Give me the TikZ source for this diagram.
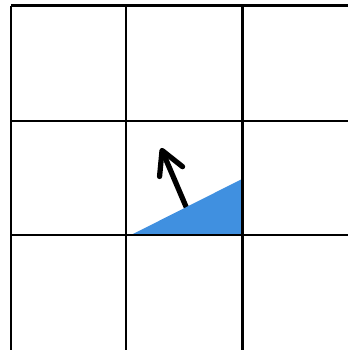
\documentclass[tikz,border=0pt]{standalone}
\usepackage{xcolor}
\usepackage{tikz}
\usetikzlibrary{arrows.meta, calc}
\definecolor{cellblue}{RGB}{64, 144, 224}

\begin{document}
\begin{tikzpicture}[
    x=0.02cm, y=-0.02cm,
    gridline/.style={line width=1.7pt, color=black},
    wedge/.style={fill=cellblue, draw=none},
    normal/.style={line width=3pt, line cap=round, line join=round, -{Straight Barb[length=0.46cm, width=0.5cm, line cap=round, line join=round]}}
]
\useasboundingbox (0,0) rectangle (348,350);

% Siatka
\foreach \x in {11,126,242}
    \draw [gridline] (\x,6) -- (\x,350);
\foreach \y in {6,121,235}
    \draw [gridline] (11,\y) -- (348,\y);

% Wektor normalny
\coordinate (foot) at (187,209);
\coordinate (tip) at (161,148);
\draw [normal] (foot) -- (tip);

% Wypelniony fragment komorki
\coordinate (a) at (131,235);
\coordinate (b) at (242,235);
\coordinate (c) at (242,179);
\fill [wedge] (a) -- (b) -- (c) -- cycle;
\draw [gridline] (126,235) -- (348,235);
\draw [gridline] (242,121) -- (242,350);

\end{tikzpicture}
\end{document}
